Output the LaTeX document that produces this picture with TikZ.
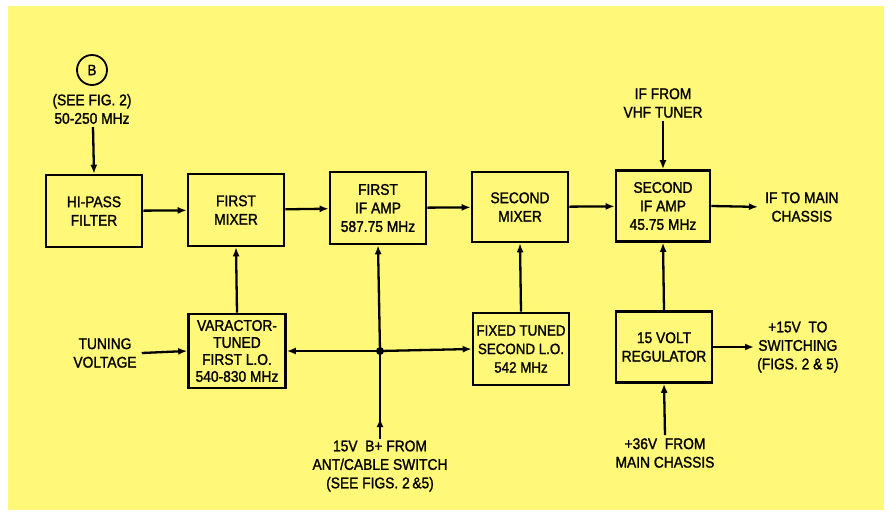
\documentclass[tikz,border=0pt]{standalone}
\usepackage{fontspec}
\setmainfont[FakeStretch=0.89,FakeBold=1.3]{Liberation Sans}
\usepackage{tikz}
\usetikzlibrary{arrows.meta, positioning, calc, decorations.markings}
\definecolor{padyellow}{RGB}{255,248,120}

\begin{document}
\begin{tikzpicture}[x=1pt,y=-1pt,
  blockbox/.style={draw,line width=2.6pt,fill=padyellow,align=center,inner sep=1pt,
    font=\fontsize{15.5}{18.5}\selectfont},
  lbl/.style={align=center,inner sep=1pt,font=\fontsize{15.5}{18.5}\selectfont},
  sig/.style={line width=2.3pt,-{Latex[length=9pt,width=7pt]}},
  wire/.style={line width=2.3pt}]
  % background and margins
  \useasboundingbox (0,0) rectangle (889,517);
  \fill[white] (0,0) rectangle (889,517);
  \fill[padyellow] (8,6) rectangle (884,510);
  % blocks
  \node[blockbox,minimum width=96,minimum height=72] (hipass) at (94,211) {HI-PASS\\FILTER};
  \node[blockbox,minimum width=96,minimum height=72] (mixa) at (236,210) {FIRST\\MIXER};
  \node[blockbox,minimum width=96,minimum height=72] (ifa) at (378,208) {FIRST\\IF AMP\\587.75 MHz};
  \node[blockbox,minimum width=96,minimum height=70] (mixb) at (520,207) {SECOND\\MIXER};
  \node[blockbox,minimum width=94,minimum height=71] (ifb) at (663,206) {SECOND\\IF AMP\\45.75 MHz};
  \node[blockbox,minimum width=97,minimum height=74,font=\fontsize{15.5}{17}\selectfont] (loa) at (237,351) {VARACTOR-\\TUNED\\FIRST L.O.\\540-830 MHz};
  \node[blockbox,minimum width=96,minimum height=72,font=\fontsize{15}{18.5}\selectfont] (lob) at (521,349) {FIXED TUNED\\SECOND L.O.\\542 MHz};
  \node[blockbox,minimum width=96,minimum height=71] (reg) at (664,347) {15 VOLT\\REGULATOR};
  % labels
  \node[draw,circle,line width=1.8pt,minimum size=30,inner sep=0pt,font=\fontsize{15}{18}\selectfont] (refb) at (92,70) {B};
  \node[lbl] (seefig) at (92,109) {(SEE FIG. 2)\\50-250 MHz};
  \node[lbl] (tuning) at (105,353) {TUNING\\VOLTAGE};
  \node[lbl] (bplus) at (380,466) {15V\ \ B+ FROM\\ANT/CABLE SWITCH\\(SEE FIGS. 2\,\&5)};
  \node[lbl] (vhf) at (663,103) {IF FROM\\VHF TUNER};
  \node[lbl,anchor=west] (ifmain) at (764,207) {IF TO MAIN\\CHASSIS};
  \node[lbl,anchor=west] (switching) at (756,347) {+15V\ \ TO\\SWITCHING\\(FIGS. 2 \& 5)};
  \node[lbl] (main36) at (665,453) {+36V\ \ FROM\\MAIN CHASSIS};
  \coordinate (jct) at (380,351);
  % signal path
  \draw[sig] (seefig.south) ++(1,2) -- (hipass.north);
  \draw[sig] (hipass) -- (mixa);
  \draw[sig] (mixa) -- (ifa);
  \draw[sig] (ifa) -- (mixb);
  \draw[sig] (mixb) -- (ifb);
  \draw[sig,shorten >=6pt] (ifb.east) -- (ifmain.west);
  \draw[sig] (vhf.south) ++(0,2) -- (ifb.north);
  % oscillators
  \draw[sig] (tuning.east) ++(4,0) -- (loa.west);
  \draw[sig] (loa.north) -- (mixa.south);
  \draw[sig] (lob.north) -- (mixb.south);
  % supply
  \draw[wire,postaction={decorate},decoration={markings,
    mark=at position 0.24 with {\arrow{Latex[length=9pt,width=7pt]}}}]
    (bplus.north) -- (jct);
  \draw[sig] (jct) -- (ifa.south);
  \draw[sig] (jct) -- (loa.east);
  \draw[sig] (jct) -- (lob.west);
  \fill (jct) circle (4);
  \draw[sig] (reg.north) -- (ifb.south);
  \draw[sig] (main36.north) ++(0,-2) -- (reg.south);
  \draw[sig,shorten >=2pt] (reg.east) -- (switching.west);
\end{tikzpicture}
\end{document}
